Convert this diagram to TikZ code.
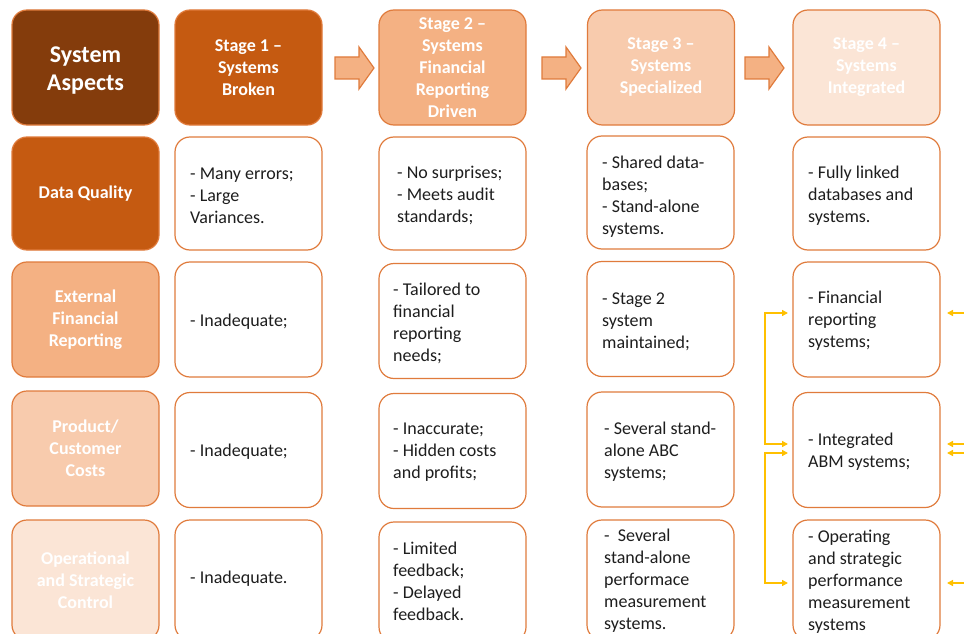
\documentclass[tikz,border=0pt]{standalone}
\usepackage{fontspec}
\setmainfont{Carlito}
\usetikzlibrary{arrows.meta}
\definecolor{cA}{HTML}{843C0C}
\definecolor{cB}{HTML}{C55A11}
\definecolor{cC}{HTML}{F4B183}
\definecolor{cD}{HTML}{F8CBAD}
\definecolor{cE}{HTML}{FBE5D6}
\definecolor{bord}{HTML}{E07B3C}
\definecolor{txtgray}{HTML}{1E1E1E}
\definecolor{yel}{HTML}{FFC000}
\tikzset{
  box/.style={draw=bord, line width=1.2pt, rounded corners=15pt, minimum width=147pt, inner sep=0pt},
  wbox/.style={box, fill=white},
  hbox/.style={box, text=white, font=\bfseries\fontsize{18}{22}\selectfont, align=center},
  txt/.style={anchor=west, align=left, inner sep=0pt, text=txtgray, font=\fontsize{18}{22}\selectfont, yshift=-1.5pt},
  blockarrow/.style={draw=bord, fill=cC, line width=1.2pt, line join=miter},
  ya/.style={draw=yel, line width=1.4pt, arrows={-Triangle[length=6pt,width=6pt]}},
  yab/.style={draw=yel, line width=1.4pt, arrows={Triangle[length=6pt,width=6pt]-Triangle[length=6pt,width=6pt]}}
}
\begin{document}
\begin{tikzpicture}[x=1pt,y=-1pt]
\clip (0,0) rectangle (964,634);
\fill[white] (0,0) rectangle (964,634);
% header row
\node[hbox, fill=cA, minimum height=115pt] (h0) at (85.5,67.5) {};
\node[text=white, font=\bfseries\fontsize{24}{28}\selectfont, align=center, inner sep=0pt] (h0t) at (85.5,70.5) {System\\Aspects};
\node[hbox, fill=cB, minimum height=115pt] (h1) at (248.5,67.5) {Stage 1 –\\Systems\\Broken};
\node[hbox, fill=cC, minimum height=115pt] (h2) at (452.5,67.5) {Stage 2 –\\Systems\\Financial\\Reporting\\Driven};
\node[hbox, fill=cD, minimum height=115pt] (h3) at (661,67.5) {Stage 3 –\\Systems\\Specialized};
\node[hbox, fill=cE, minimum height=115pt] (h4) at (866.5,67.5) {Stage 4 –\\Systems\\Integrated};
% block arrows
\draw[blockarrow] (335,57) -- (359,57) -- (359,47) -- (374,68) -- (359,89) -- (359,79) -- (335,79) -- cycle;
\draw[blockarrow] (542,57) -- (566,57) -- (566,47) -- (581,68) -- (566,89) -- (566,79) -- (542,79) -- cycle;
\draw[blockarrow] (745,57) -- (769,57) -- (769,47) -- (784,68) -- (769,89) -- (769,79) -- (745,79) -- cycle;
% left column
\node[hbox, fill=cB, minimum height=113pt] (l1) at (85.5,193.5) {Data Quality};
\node[hbox, fill=cC, minimum height=115pt] (l2) at (85.5,319.5) {External\\Financial\\Reporting};
\node[hbox, fill=cD, minimum height=115pt] (l3) at (85.5,448.5) {Product/\\Customer\\Costs};
\node[hbox, fill=cE, minimum height=120pt] (l4) at (85.5,580) {Operational\\and Strategic\\Control};
% white boxes
\node[wbox, minimum height=113pt] (r1c1) at (248.5,193.5) {};
\node[wbox, minimum height=115pt] (r2c1) at (248.5,319.5) {};
\node[wbox, minimum height=115pt] (r3c1) at (248.5,450) {};
\node[wbox, minimum height=120pt] (r4c1) at (248.5,580) {};
\node[wbox, minimum height=113pt] (r1c2) at (452.5,193.5) {};
\node[wbox, minimum height=115pt] (r2c2) at (452.5,321) {};
\node[wbox, minimum height=115pt] (r3c2) at (452.5,451) {};
\node[wbox, minimum height=120pt] (r4c2) at (452.5,582) {};
\node[wbox, minimum height=113pt] (r1c3) at (660.5,192.5) {};
\node[wbox, minimum height=115pt] (r2c3) at (660.5,319) {};
\node[wbox, minimum height=115pt] (r3c3) at (660.5,449.5) {};
\node[wbox, minimum height=120pt] (r4c3) at (660.5,580) {};
\node[wbox, minimum height=113pt] (r1c4) at (866.5,193.5) {};
\node[wbox, minimum height=115pt] (r2c4) at (866.5,319.5) {};
\node[wbox, minimum height=115pt] (r3c4) at (866.5,450) {};
\node[wbox, minimum height=120pt] (r4c4) at (866.5,580) {};
% texts
\node[txt] (t11) at (190,194) {- Many errors;\\- Large\\Variances.};
\node[txt] (t21) at (190,320) {- Inadequate;};
\node[txt] (t31) at (190,450) {- Inadequate;};
\node[txt] (t41) at (190,577) {- Inadequate.};
\node[txt] (t12) at (397,194) {- No surprises;\\- Meets audit\\standards;};
\node[txt] (t22) at (393,322) {- Tailored to\\financial\\reporting\\needs;};
\node[txt] (t32) at (393,451) {- Inaccurate;\\- Hidden costs\\and profits;};
\node[txt] (t42) at (393,580) {- Limited\\feedback;\\- Delayed\\feedback.};
\node[txt] (t13) at (602,195) {- Shared data-\\bases;\\- Stand-alone\\systems.};
\node[txt] (t23) at (602,320) {- Stage 2\\system\\maintained;};
\node[txt] (t33) at (604,450) {- Several stand-\\alone ABC\\systems;};
\node[txt] (t43) at (604,579) {-~~Several\\stand-alone\\performace\\measurement\\systems.};
\node[txt] (t14) at (808,194) {- Fully linked\\databases and\\systems.};
\node[txt] (t24) at (808,319) {- Financial\\reporting\\systems;};
\node[txt] (t34) at (808,450) {- Integrated\\ABM systems;};
\node[txt] (t44) at (808,580) {- Operating\\and strategic\\performance\\measurement\\systems};
% yellow connectors
\coordinate (a1) at (788,313);
\coordinate (a2) at (788,444);
\coordinate (a3) at (788,453);
\coordinate (a4) at (788,583);
\coordinate (k1) at (765,313);
\coordinate (k2) at (765,444);
\coordinate (k3) at (765,453);
\coordinate (k4) at (765,583);
\draw[yab] (a1) -- (k1) -- (k2) -- (a2);
\draw[yab] (a3) -- (k3) -- (k4) -- (a4);
\coordinate (e1) at (966,313);
\coordinate (e2) at (966,444);
\coordinate (e3) at (966,453);
\coordinate (e4) at (966,583);
\coordinate (p1) at (947,313);
\coordinate (p2) at (947,444);
\coordinate (p3) at (947,453);
\coordinate (p4) at (947,583);
\draw[ya] (e1) -- (p1);
\draw[ya] (e2) -- (p2);
\draw[ya] (e3) -- (p3);
\draw[ya] (e4) -- (p4);
\end{tikzpicture}
\end{document}
